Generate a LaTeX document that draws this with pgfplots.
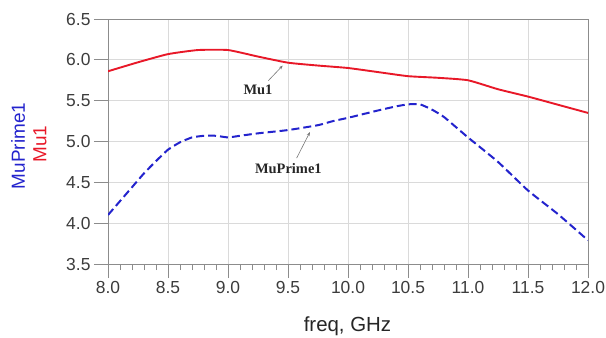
\documentclass[border=0pt]{standalone}
\usepackage{fontspec}
\setmainfont{Liberation Sans}
\newfontfamily\serifb{Liberation Serif}
\usepackage{pgfplots}
\pgfplotsset{compat=1.18}
\usetikzlibrary{arrows.meta}
\definecolor{murd}{RGB}{232,24,40}
\definecolor{mubl}{RGB}{35,35,205}
\definecolor{framec}{RGB}{140,140,140}
\definecolor{gridc}{RGB}{218,218,218}
\definecolor{tl}{RGB}{60,60,60}
\definecolor{arr}{RGB}{120,120,120}
\begin{document}
\begin{tikzpicture}
\useasboundingbox (-108bp,-74bp) rectangle (498bp,264bp);
\begin{axis}[
  scale only axis, width=480bp, height=245bp,
  xmin=8, xmax=12, ymin=3.5, ymax=6.5,
  xtick={8,8.5,...,12}, ytick={3.5,4,...,6.5},
  minor x tick num=4,
  tick align=outside, xtick pos=bottom, ytick pos=left,
  major tick length=14bp, minor tick length=6bp,
  grid=major, major grid style={gridc, line width=0.8bp},
  axis line style={framec, line width=0.9bp},
  every tick/.style={framec, line width=0.8bp},
  ticklabel style={font=\fontsize{17.5}{20}\selectfont, text=tl},
  /pgf/number format/.cd, fixed, fixed zerofill, precision=1, assume math mode=true,
]
\addplot[murd, line width=1.9bp, smooth, tension=0.3] coordinates {
(8.0,5.86) (8.25,5.97) (8.5,6.07) (8.75,6.12) (9.0,6.12) (9.25,6.04)
(9.5,5.965) (9.75,5.93) (10.0,5.90) (10.25,5.85) (10.5,5.80) (10.75,5.78)
(11.0,5.75) (11.25,5.64) (11.5,5.55) (11.75,5.45) (12.0,5.35)};
\addplot[mubl, line width=2bp, smooth, tension=0.3, dash pattern=on 8bp off 4bp] coordinates {
(8.0,4.10) (8.1,4.27) (8.2,4.44) (8.3,4.61) (8.4,4.76) (8.5,4.90) (8.6,4.99)
(8.7,5.05) (8.8,5.07) (8.9,5.07) (9.0,5.05) (9.1,5.07) (9.25,5.10) (9.5,5.14)
(9.75,5.20) (9.875,5.25) (10.0,5.29) (10.25,5.38) (10.4,5.43) (10.5,5.455)
(10.6,5.455) (10.7,5.39) (10.8,5.30) (11.0,5.05) (11.25,4.75) (11.5,4.40)
(11.75,4.11) (12.0,3.79)};
\draw[arr, line width=0.6bp, -{Stealth[length=4bp,width=3bp]}] (axis cs:9.336,5.745) -- (axis cs:9.456,5.93);
\draw[arr, line width=0.6bp, -{Stealth[length=4bp,width=3bp]}] (axis cs:9.572,4.797) -- (axis cs:9.683,5.116);
\node[font=\serifb\bfseries\fontsize{14.5}{16}\selectfont, text=black!85] at (axis cs:9.25,5.63) {Mu1};
\node[font=\serifb\bfseries\fontsize{14.5}{16}\selectfont, text=black!85] at (axis cs:9.503,4.674) {MuPrime1};
\end{axis}
\node[rotate=90, text=mubl, font=\fontsize{19}{22}\selectfont] at (-90bp,118bp) {MuPrime1};
\node[rotate=90, text=murd, font=\fontsize{19}{22}\selectfont] at (-68bp,120bp) {Mu1};
\node[font=\fontsize{20.5}{24}\selectfont, text=black!85] at (239.5bp,-62bp) {freq, GHz};
\end{tikzpicture}
\end{document}
